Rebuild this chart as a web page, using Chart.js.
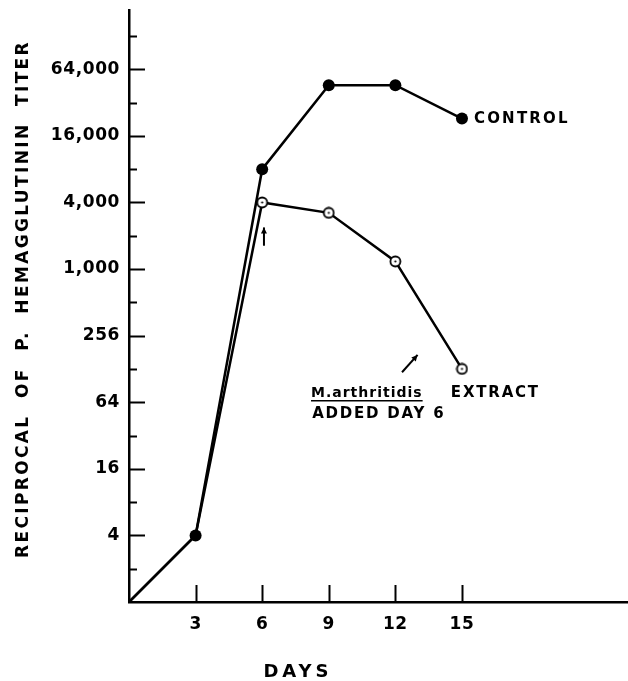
<!DOCTYPE html>
<html><head><meta charset="utf-8">
<script src="https://cdn.jsdelivr.net/npm/chart.js@4/dist/chart.umd.min.js"></script>
<style>html,body{margin:0;padding:0;background:#fff}#wrap{width:628px;height:681px}</style>
</head><body><div id="wrap"><canvas id="c" width="628" height="681"></canvas></div>
<script>
// ---- data ----
const DAYS = [0, 3, 6, 9, 12, 15];
const CONTROL = [1, 4, 8192, 47000, 47000, 23500];
const EXTRACT = [1, 4, 4096, 3300, 1200, 128];
const X_TICKS = [3, 6, 9, 12, 15];
const Y_TICKS = [4, 16, 64, 256, 1024, 4096, 16384, 65536];
const Y_TICK_LABELS = ['4', '16', '64', '256', '1,000', '4,000', '16,000', '64,000'];
const Y_MINOR = [2, 8, 32, 128, 512, 2048, 8192, 32768, 131072];
const Y_TITLE = 'RECIPROCAL  OF  P.  HEMAGGLUTININ  TITER';
const X_TITLE = 'DAYS';
const CONTROL_LABEL = 'CONTROL';
const NOTE_SPECIES = 'M.arthritidis';
const NOTE_EXTRACT = 'EXTRACT';
const NOTE_ADDED = 'ADDED DAY 6';

const FONT = '"DejaVu Sans", sans-serif';

// open circle with centre dot for the extract series
function openDot() {
  const c = document.createElement('canvas');
  c.width = 13; c.height = 13;
  const g = c.getContext('2d');
  g.fillStyle = '#fff';
  g.strokeStyle = '#000';
  g.lineWidth = 1.8;
  g.beginPath(); g.arc(6.5, 6.5, 5, 0, Math.PI * 2); g.fill(); g.stroke();
  g.fillStyle = '#000';
  g.beginPath(); g.arc(6.5, 6.5, 1.1, 0, Math.PI * 2); g.fill();
  return c;
}

const toPts = (ys) => DAYS.map((d, i) => ({ x: d, y: ys[i] }));

const spacingPlugin = {
  id: 'spacing',
  beforeDraw(chart) { chart.ctx.letterSpacing = '0.6px'; }
};

const decor = {
  id: 'decor',
  afterDraw(chart) {
    const { ctx, chartArea: a } = chart;
    const xs = chart.scales.x, ys = chart.scales.y;
    const X = (d) => xs.getPixelForValue(d);
    const Y = (e) => ys.getPixelForValue(Math.pow(2, e)); // e = log2 value
    ctx.save();
    ctx.strokeStyle = '#000';
    ctx.fillStyle = '#000';
    ctx.lineCap = 'butt';
    // y ticks (inside)
    ctx.lineWidth = 2;
    Y_TICKS.forEach(v => {
      const p = Math.round(ys.getPixelForValue(v)) + 0.5;
      ctx.beginPath(); ctx.moveTo(a.left, p); ctx.lineTo(a.left + 16, p); ctx.stroke();
    });
    Y_MINOR.forEach(v => {
      const p = Math.round(ys.getPixelForValue(v)) + 0.5;
      ctx.beginPath(); ctx.moveTo(a.left, p); ctx.lineTo(a.left + 8, p); ctx.stroke();
    });
    // x ticks (inside)
    X_TICKS.forEach(d => {
      const p = Math.round(X(d)) + 0.5;
      ctx.beginPath(); ctx.moveTo(p, a.bottom); ctx.lineTo(p, a.bottom - 17); ctx.stroke();
    });

    // arrows
    function arrow(x1, y1, x2, y2) {
      ctx.lineWidth = 2;
      ctx.beginPath(); ctx.moveTo(x1, y1); ctx.lineTo(x2, y2); ctx.stroke();
      const ang = Math.atan2(y2 - y1, x2 - x1);
      const L = 6, W = 3;
      ctx.beginPath();
      ctx.moveTo(x2, y2);
      ctx.lineTo(x2 - L * Math.cos(ang) + W * Math.sin(ang), y2 - L * Math.sin(ang) - W * Math.cos(ang));
      ctx.lineTo(x2 - L * Math.cos(ang) - W * Math.sin(ang), y2 - L * Math.sin(ang) + W * Math.cos(ang));
      ctx.closePath(); ctx.fill();
    }
    arrow(X(6.08), Y(10.7), X(6.08), Y(11.25));
    arrow(X(12.3), Y(6.9), X(13.0), Y(7.42));

    // labels
    ctx.textAlign = 'left';
    ctx.font = 'bold 15px ' + FONT;
    ctx.letterSpacing = '2.2px';
    ctx.textBaseline = 'middle';
    ctx.fillText(CONTROL_LABEL, X(15) + 12, ys.getPixelForValue(CONTROL[5]) + 1);
    ctx.textBaseline = 'alphabetic';
    ctx.letterSpacing = '1.8px';
    ctx.fillText(NOTE_EXTRACT, X(14.5), Y(6.15));
    ctx.fillText(NOTE_ADDED, X(8.25), Y(5.52));
    ctx.font = 'bold 14px ' + FONT;
    ctx.letterSpacing = '1px';
    const sx = X(8.2), sy = Y(6.15);
    ctx.fillText(NOTE_SPECIES, sx, sy);
    const w = ctx.measureText(NOTE_SPECIES).width;
    ctx.lineWidth = 1.5;
    ctx.beginPath(); ctx.moveTo(sx, sy + 3.5); ctx.lineTo(sx + w, sy + 3.5); ctx.stroke();

    // axis titles
    ctx.font = 'bold 17px ' + FONT;
    ctx.letterSpacing = '2.35px';
    ctx.textAlign = 'center';
    ctx.textBaseline = 'middle';
    ctx.save();
    ctx.translate(24, 299);
    ctx.rotate(-Math.PI / 2);
    ctx.fillText(Y_TITLE, 0, 0);
    ctx.restore();
    ctx.font = 'bold 18px ' + FONT;
    ctx.letterSpacing = '4px';
    ctx.fillText(X_TITLE, 298, 672);
    ctx.restore();
  }
};

new Chart(document.getElementById('c'), {
  type: 'line',
  data: {
    datasets: [
      {
        label: 'Control',
        data: toPts(CONTROL),
        borderColor: '#000', borderWidth: 2.5,
        backgroundColor: '#000',
        pointStyle: 'circle',
        pointRadius: [0, 6, 6, 6, 6, 6],
        pointBorderWidth: 0,
        tension: 0
      },
      {
        label: 'M. arthritidis extract added day 6',
        data: toPts(EXTRACT),
        borderColor: '#000', borderWidth: 2.5,
        backgroundColor: '#fff',
        pointStyle: openDot(),
        pointRadius: [0, 0, 5, 5, 5, 5],
        tension: 0
      }
    ]
  },
  options: {
    responsive: false,
    animation: false,
    devicePixelRatio: 1,
    layout: { autoPadding: false, padding: { top: 10, right: 0, left: 0, bottom: 0 } },
    plugins: { legend: { display: false }, tooltip: { enabled: false } },
    scales: {
      x: {
        type: 'linear', min: 0, max: 22.48,
        afterFit(s) { s.height = 79; s.paddingLeft = 0; s.paddingRight = 0; },
        afterBuildTicks(s) { s.ticks = X_TICKS.map(v => ({ value: v })); },
        grid: { display: false, drawTicks: false },
        border: { display: true, color: '#000', width: 2.5 },
        ticks: { color: '#000', font: { family: FONT, size: 17, weight: 'bold' }, padding: 12, autoSkip: false, maxRotation: 0 }
      },
      y: {
        type: 'logarithmic', min: 1, max: Math.pow(2, 17.78),
        afterFit(s) { s.width = 129; s.paddingTop = 0; s.paddingBottom = 0; },
        afterBuildTicks(s) { s.ticks = Y_TICKS.map(v => ({ value: v })); },
        grid: { display: false, drawTicks: false },
        border: { display: true, color: '#000', width: 2.5 },
        ticks: {
          color: '#000', font: { family: FONT, size: 17, weight: 'bold' }, padding: 9, autoSkip: false,
          callback: (v) => { const i = Y_TICKS.indexOf(v); return i >= 0 ? Y_TICK_LABELS[i] : ''; }
        }
      }
    }
  },
  plugins: [spacingPlugin, decor]
});
</script>
</body></html>
